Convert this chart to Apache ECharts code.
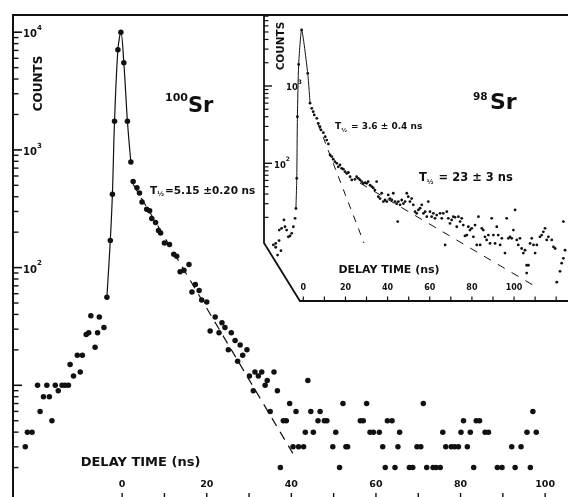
<!DOCTYPE html>
<html><head><meta charset="utf-8">
<script src="https://cdn.jsdelivr.net/npm/echarts@6/dist/echarts.min.js"></script>
<style>html,body{margin:0;padding:0;background:#fff}#c{width:568px;height:497px}</style>
</head><body><div id="c"></div>
<script>
// ---------- 100Sr (main panel) ----------
const mainDelay = [-22.9,-22.4,-21.3,-20.0,-19.4,-18.6,-17.8,-17.2,-16.6,-15.8,-15.1,-14.2,-13.5,-12.7,-12.3,-11.5,-10.6,-9.9,-9.4,-8.5,-7.9,-7.4,-6.4,-5.8,-5.4,-4.3,-3.6,-2.8,-2.3,-1.8,-1.0,-0.3,0.4,1.25,2.06,2.6,3.5,4.1,4.7,5.8,6.5,7.0,7.9,8.6,9.1,10.0,11.2,12.2,12.9,13.7,14.6,15.8,16.5,17.3,18.2,18.8,20.0,20.8,22.0,22.9,23.6,24.3,25.1,25.8,26.7,27.3,27.9,28.5,29.5,30.1,31.0,31.4,32.2,33.0,33.8,34.3,35.0,35.9,36.7,37.4,38.1,38.8,39.6,40.4,41.1,41.7,42.9,43.3,43.9,44.6,45.2,46.3,46.8,47.8,48.4,49.8,50.5,51.4,52.2,52.9,53.3,56.3,57.0,57.8,58.6,59.4,60.8,61.6,62.2,62.7,63.8,64.5,65.2,65.6,67.9,68.7,69.7,70.6,71.2,72.0,73.5,74.2,75.2,75.8,76.5,77.8,78.6,79.5,80.1,80.7,81.6,82.3,83.1,83.7,84.5,85.8,86.6,88.7,89.8,92.1,92.9,94.3,95.7,96.5,97.1,97.9];
const mainCounts = [3,4,4,10,6,8,10,8,5,10,9,10,10,10,15,12,18,13,18,27,28,39,21,28,38,31,56,170,420,1750,7100,10000,5500,1750,790,540,476,430,361,313,304,261,242,207,197,162,157,130,125,92,95,106,62,72,64,53,51,29,38,28,34,31,20,28,24,16,22,18,20,12,9,13,12,13,10,11,6,13,9,2,5,5,7,3,6,3,3,4,11,6,4,5,6,5,5,3,4,2,7,3,3,5,5,7,4,4,4,3,2,5,5,2,3,4,2,2,3,3,7,2,2,2,2,4,3,3,3,3,4,5,3,4,2,5,5,4,4,2,2,3,2,3,4,2,6,4];
const mainPeakRange = [-3.7, 2.1];
const mainFitDelay = [2.6, 40.35];
const mainFitCounts = [511, 2.64];
const mainXTicks = [0,10,20,30,40,50,60,70,80,90,100];
const mainXLabels = [0,20,40,60,80,100];
const mainDecadeExps = [1,2,3,4];
const mainLabelExps = [2,3,4];

// ---------- 98Sr (inset) ----------
const insetDelay = [-14.2,-13.1,-13.1,-12.2,-11.5,-11.4,-10.6,-10.3,-9.2,-8.7,-7.9,-7.1,-6.3,-5.5,-4.7,-3.9,-3.5,-3.1,-2.8,-2.2,-0.8,2.1,3.2,4.0,4.7,5.2,6.4,7.1,7.9,8.4,9.5,10.4,11.1,11.9,12.7,13.5,14.2,15.0,15.9,16.6,17.4,18.2,19.0,19.8,20.6,21.4,22.2,23.0,24.5,25.3,26.1,26.9,27.7,28.5,29.3,30.1,30.8,31.7,32.5,33.2,34.0,34.8,35.6,36.4,37.2,38.0,38.8,39.6,40.3,41.1,42.0,42.7,43.5,44.3,44.8,45.1,45.9,46.7,47.5,48.3,49.1,49.8,50.6,51.4,52.2,53.0,53.8,54.6,55.4,56.2,57.0,57.8,58.6,59.3,60.1,60.9,61.7,62.5,63.3,64.9,65.7,66.4,67.3,68.1,68.8,69.6,70.4,71.2,72.0,72.8,73.6,74.4,75.2,75.9,76.7,77.6,78.3,79.1,79.9,80.7,81.5,82.3,83.1,83.9,84.7,85.4,86.2,87.0,87.8,88.6,89.4,90.2,91.0,91.8,92.5,93.4,94.2,95.7,96.5,97.3,98.1,98.9,99.7,100.5,101.3,102.0,102.8,103.6,104.4,105.2,106.0,106.8,106.0,107.6,108.4,109.2,110.0,110.8,112.3,113.1,113.9,114.7,115.5,116.3,117.9,118.7,119.5,120.3,121.8,122.6,123.4,123.4,124.2];
const insetCounts = [8.8,9.2,8.2,6.5,10,13.7,7.4,14.4,18.5,15.1,13.7,11.2,11.5,12.4,15.1,19.4,26,64,400,1900,5300,1460,600,514,465,422,382,329,297,270,249,221,200,178,128,122,113,105,100,90,95,86,84,78,74,76,67,61,62,67,64,61,58,55,56,55,58,52,50,48,45,58,37,35,41,32,33.5,32,39,35,33.5,41,32,30,17.6,32,29,33.5,30,32,41,37,32,35,29,23.7,22.5,24.9,26.2,29,22.5,23.7,20.4,32,23.7,20.4,22.5,19.4,21.4,22.5,19.4,22.5,8.8,23.7,19.4,16.7,18.5,20.4,20,15.1,20.4,17.6,19.4,15.9,11.5,11.8,15.1,13.7,14.4,11.2,15.9,8.8,20.4,8.8,14.4,13.7,11.2,10.2,11.8,9.2,19.4,11.8,9.2,15.1,11.8,8.8,10.7,6.9,19.4,10.7,11.2,10.7,13.7,24.9,10.2,8.8,10.7,7.9,6.9,7.5,4.8,4.8,3.8,9.2,10.7,8.8,6.9,8.8,11.2,11.8,13,14.4,10.2,11.2,10.2,8.3,7.9,2.9,4.0,5.1,5.9,17.6,7.5];
const insetPeakRange = [-3.6, 3.3];
const insetFitShortDelay = [7.0, 28.8];
const insetFitShortCounts = [322, 9.3];
const insetFitLongDelay = [26.9, 111.3];
const insetFitLongCounts = [55.6, 2.44];
const insetXTicks = [0,10,20,30,40,50,60,70,80,90,100,110,120];
const insetXLabels = [0,20,40,60,80,100];
const insetDecadeExps = [2,3];
const insetLabelExps = [2,3];
const insetAxisCornerCount = 9.3;
const insetAxisStartDelay = -1.6;

// ---------- helpers ----------
const lg = Math.log10;
const pts = (xs, ys) => xs.map((x, i) => [x, lg(ys[i])]);
const inRange = (r) => (p) => p[0] >= r[0] && p[0] <= r[1];
const minorLogs = (k0, k1, maxLog) => {
  const out = [];
  for (let k = k0; k <= k1; k++) for (let m = 2; m <= 9; m++) {
    const v = lg(m * Math.pow(10, k));
    if (v < maxLog) out.push(v);
  }
  return out;
};
const INK = '#111';
const FONT = 'DejaVu Sans';

const mainYMin = 0, mainYMax = lg(14000);
const insetYMin = lg(1.654), insetYMax = lg(8288);
const mainXMin = -25.8, mainXMax = 105.4;
const insetXMin = -18.65, insetXMax = 125.6;

const supRich = (big, small) => ({
  b: {fontSize: big, fontWeight: 'bold', fontFamily: FONT, color: INK, lineHeight: big + 5, verticalAlign: 'bottom'},
  s: {fontSize: small, fontWeight: 'bold', fontFamily: FONT, color: INK, lineHeight: big + 5, verticalAlign: 'top'},
  p: {width: 12}
});
const noZero = (o) => Object.assign({onZero: false}, o);

const chart = echarts.init(document.getElementById('c'), null, {renderer: 'canvas'});

chart.setOption({
  animation: false,
  backgroundColor: '#fff',
  grid: [
    {left: 13, top: 15, width: 555, height: 488, outerBoundsMode: 'none', containLabel: false},
    {left: 264, top: 15, width: 304, height: 286, outerBoundsMode: 'none', containLabel: false}
  ],
  xAxis: [
    {type: 'value', gridIndex: 0, min: mainXMin, max: mainXMax, position: 'bottom',
      axisLine: noZero({show: true, lineStyle: {color: INK, width: 1.5}}),
      axisTick: {show: false},
      axisLabel: {show: true, inside: true, margin: 13, customValues: mainXLabels, color: INK,
        fontFamily: FONT, fontWeight: 'bold', fontSize: 9.5},
      splitLine: {show: false}},
    {type: 'value', gridIndex: 0, min: mainXMin, max: mainXMax, position: 'top',
      axisLine: noZero({show: true, lineStyle: {color: INK, width: 2}}),
      axisTick: {show: false}, axisLabel: {show: false}, splitLine: {show: false}},
    {type: 'value', gridIndex: 1, min: insetXMin, max: insetXMax, position: 'bottom',
      axisLine: noZero({show: false}),
      axisTick: {show: false},
      axisLabel: {show: true, inside: true, margin: 9, customValues: insetXLabels, color: INK,
        fontFamily: FONT, fontWeight: 'bold', fontSize: 8},
      splitLine: {show: false}}
  ],
  yAxis: [
    {type: 'value', gridIndex: 0, min: mainYMin, max: mainYMax, position: 'left',
      axisLine: noZero({show: true, lineStyle: {color: INK, width: 2}}),
      axisTick: {show: false},
      axisLabel: {show: true, inside: true, margin: 10, customValues: mainLabelExps,
        formatter: (v) => '{b|10}{s|' + Math.round(v) + '}', rich: supRich(10, 7)},
      splitLine: {show: false}},
    {type: 'value', gridIndex: 1, min: insetYMin, max: insetYMax, position: 'left',
      axisLine: noZero({show: false}),
      axisTick: {show: false},
      axisLabel: {show: true, inside: true, margin: 10, customValues: insetLabelExps,
        formatter: (v) => (Math.round(v) === 3 ? '{p|}' : '') + '{b|10}{s|' + Math.round(v) + '}', rich: supRich(8.5, 6)},
      splitLine: {show: false}}
  ],
  series: [
    {type: 'scatter', xAxisIndex: 0, yAxisIndex: 0, data: pts(mainDelay, mainCounts),
      symbol: 'circle', symbolSize: 5.5, itemStyle: {color: INK, opacity: 1}, z: 3},
    {type: 'line', xAxisIndex: 0, yAxisIndex: 0, data: pts(mainDelay, mainCounts).filter(inRange(mainPeakRange)),
      smooth: 0.35, symbol: 'none', lineStyle: {color: INK, width: 1.2}, z: 2},
    {type: 'line', xAxisIndex: 0, yAxisIndex: 0, data: pts(mainFitDelay, mainFitCounts),
      symbol: 'none', lineStyle: {color: INK, width: 1.2, type: [9, 7]}, z: 2},
    {type: 'scatter', xAxisIndex: 2, yAxisIndex: 1, data: pts(insetDelay, insetCounts),
      symbol: 'circle', symbolSize: 2.8, itemStyle: {color: INK, opacity: 1}, z: 3},
    {type: 'line', xAxisIndex: 2, yAxisIndex: 1, data: pts(insetDelay, insetCounts).filter(inRange(insetPeakRange)),
      smooth: 0.2, symbol: 'none', lineStyle: {color: INK, width: 1}, z: 2},
    {type: 'line', xAxisIndex: 2, yAxisIndex: 1, data: pts(insetFitShortDelay, insetFitShortCounts),
      symbol: 'none', lineStyle: {color: INK, width: 1, type: [7, 7]}, z: 2},
    {type: 'line', xAxisIndex: 2, yAxisIndex: 1, data: pts(insetFitLongDelay, insetFitLongCounts),
      symbol: 'none', lineStyle: {color: INK, width: 1, type: [8, 8]}, z: 2}
  ]
});

// ---------- ticks, inset frame & annotations (positions from the axes) ----------
const mainPx = (v) => chart.convertToPixel({xAxisIndex: 0, yAxisIndex: 0}, v);
const insetPx = (v) => chart.convertToPixel({xAxisIndex: 2, yAxisIndex: 1}, v);
const tickLine = (x1, y1, x2, y2, w) => ({type: 'rect', z: 45,
  shape: {x: Math.min(x1, x2), y: Math.min(y1, y2), width: Math.max(Math.abs(x2 - x1), w), height: Math.max(Math.abs(y2 - y1), w)},
  style: {fill: INK, stroke: null}});

const ticks = [];
mainDecadeExps.forEach(e => { const p = mainPx([mainXMin, e]); ticks.push(tickLine(p[0], p[1] - 0.8, p[0] + 9, p[1] - 0.8, 1.6)); });
minorLogs(0, 3, mainYMax).forEach(v => { const p = mainPx([mainXMin, v]); ticks.push(tickLine(p[0], p[1] - 0.7, p[0] + 5.5, p[1] - 0.7, 1.4)); });
mainXTicks.forEach(v => { const p = mainPx([v, mainYMin]); ticks.push(tickLine(p[0] - 0.7, p[1] - 10, p[0] - 0.7, p[1], 1.4)); });
insetDecadeExps.forEach(e => { const p = insetPx([insetXMin, e]); ticks.push(tickLine(p[0], p[1] - 0.7, p[0] + 8, p[1] - 0.7, 1.4)); });
minorLogs(1, 3, insetYMax).forEach(v => { const p = insetPx([insetXMin, v]); ticks.push(tickLine(p[0], p[1] - 0.6, p[0] + 4.5, p[1] - 0.6, 1.2)); });
insetXTicks.forEach(v => { const p = insetPx([v, insetYMin]); ticks.push(tickLine(p[0] - 0.6, p[1] - 4.5, p[0] - 0.6, p[1], 1.2)); });

const pTop = insetPx([insetXMin, insetYMax]);
const pCorner = insetPx([insetXMin, lg(insetAxisCornerCount)]);
const pBottom = insetPx([insetAxisStartDelay, insetYMin]);
const pEnd = insetPx([insetXMax, insetYMin]);

const txt = (x, y, text, size, extra) => ({
  type: 'text', x: x, y: y, z: 50,
  style: Object.assign({text: text, fill: INK, fontFamily: FONT, fontWeight: 'bold', fontSize: size,
    align: 'left', verticalAlign: 'middle'}, extra || {})
});
const tRich = (big, small) => ({
  t: {fontSize: big, fontWeight: 'bold', fontFamily: FONT, fill: INK, color: INK, lineHeight: big + 4, verticalAlign: 'middle'},
  h: {fontSize: small, fontWeight: 'bold', fontFamily: FONT, fill: INK, color: INK, lineHeight: big + 4, verticalAlign: 'bottom', padding: [0, 1, 0, 0]}
});

chart.setOption({
  graphic: {elements: [
    {type: 'polyline', z: 40, shape: {points: [pTop, pCorner, pBottom, pEnd]},
      style: {stroke: INK, lineWidth: 1.8, fill: null}},
    txt(165, 98, '100', 11),
    txt(188, 107, 'Sr', 21),
    {type: 'text', x: 38.5, y: 83.5, rotation: Math.PI / 2, z: 50,
      style: {text: 'COUNTS', fill: INK, fontFamily: FONT, fontWeight: 'bold', fontSize: 12, align: 'center', verticalAlign: 'middle'}},
    {type: 'text', x: 150, y: 191, z: 50,
      style: {text: '{t|T}{h|½}{t|=5.15 ±0.20 ns}', rich: tRich(10.5, 6.5), fill: INK, align: 'left', verticalAlign: 'middle'}},
    txt(140.5, 463, 'DELAY TIME (ns)', 13, {align: 'center'}),
    txt(473, 97, '98', 10.5),
    txt(490, 103.5, 'Sr', 22),
    {type: 'text', x: 281.7, y: 46, rotation: Math.PI / 2, z: 50,
      style: {text: 'COUNTS', fill: INK, fontFamily: FONT, fontWeight: 'bold', fontSize: 10.5, align: 'center', verticalAlign: 'middle'}},
    {type: 'text', x: 335, y: 127, z: 50,
      style: {text: '{t|T}{h|½}{t| = 3.6 ± 0.4 ns}', rich: tRich(9, 5.5), fill: INK, align: 'left', verticalAlign: 'middle'}},
    {type: 'text', x: 419, y: 178, z: 50,
      style: {text: '{t|T}{h|½}{t| = 23 ± 3 ns}', rich: tRich(11.5, 6.5), fill: INK, align: 'left', verticalAlign: 'middle'}},
    txt(389, 270.5, 'DELAY TIME (ns)', 11, {align: 'center'})
  ].concat(ticks)}
});
</script>
</body></html>
